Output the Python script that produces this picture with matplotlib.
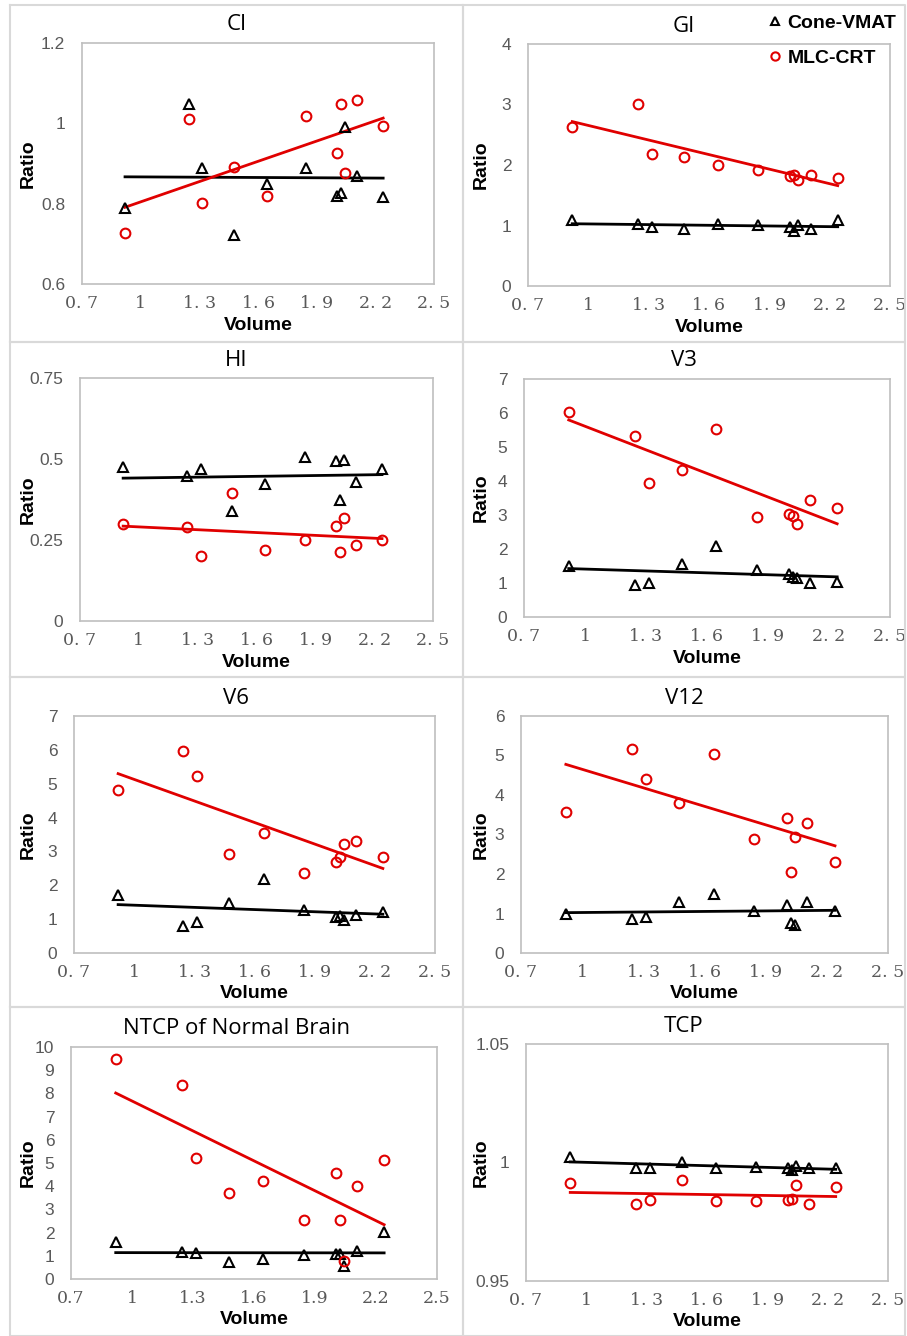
import numpy as np
import matplotlib
matplotlib.use('Agg')
import matplotlib.pyplot as plt
from matplotlib.lines import Line2D

W, H = 907, 1336

# shared x values (target volume)
volume = [0.92, 1.245, 1.315, 1.475, 1.645, 1.845, 2.005, 2.025, 2.045, 2.105, 2.24]

ci_cone = [0.789, 1.049, 0.890, 0.723, 0.849, 0.890, 0.818, 0.827, 0.992, 0.870, 0.817]
ci_mlc = [0.727, 1.011, 0.801, 0.892, 0.820, 1.019, 0.926, 1.048, 0.876, 1.059, 0.993]

gi_cone = [1.09, 1.025, 0.98, 0.94, 1.025, 1.00, 0.98, 0.915, 1.00, 0.94, 1.096]
gi_mlc = [2.63, 3.00, 2.18, 2.14, 2.00, 1.91, 1.81, 1.83, 1.75, 1.84, 1.79]

hi_cone = [0.475, 0.448, 0.470, 0.338, 0.424, 0.505, 0.494, 0.374, 0.496, 0.430, 0.468]
hi_mlc = [0.299, 0.290, 0.201, 0.395, 0.220, 0.251, 0.293, 0.213, 0.319, 0.234, 0.251]

v3_cone = [1.50, 0.93, 0.99, 1.56, 2.09, 1.38, 1.27, 1.18, 1.14, 0.99, 1.02]
v3_mlc = [6.04, 5.32, 3.94, 4.32, 5.54, 2.95, 3.04, 2.98, 2.75, 3.44, 3.20]

v6_cone = [1.70, 0.79, 0.91, 1.49, 2.20, 1.28, 1.07, 1.10, 0.98, 1.11, 1.21]
v6_mlc = [4.80, 5.96, 5.23, 2.91, 3.54, 2.37, 2.69, 2.84, 3.22, 3.31, 2.85]

v12_cone = [0.98, 0.85, 0.90, 1.28, 1.49, 1.07, 1.21, 0.77, 0.72, 1.29, 1.07]
v12_mlc = [3.57, 5.16, 4.41, 3.81, 5.03, 2.88, 3.41, 2.06, 2.93, 3.30, 2.31]

ntcp_cone = [1.58, 1.18, 1.13, 0.75, 0.85, 1.03, 1.06, 1.06, 0.56, 1.22, 2.01]
ntcp_mlc = [9.50, 8.35, 5.22, 3.70, 4.22, 2.53, 4.59, 2.53, 0.77, 4.03, 5.14]

tcp_cone = [1.0022, 0.9978, 0.9978, 1.0004, 0.9975, 0.9980, 0.9978, 0.9968, 0.9985, 0.9975, 0.9978]
tcp_mlc = [0.9912, 0.9827, 0.9841, 0.9926, 0.9836, 0.9836, 0.9841, 0.9848, 0.9907, 0.9827, 0.9895]

x_ticks = [0.7, 1.0, 1.3, 1.6, 1.9, 2.2, 2.5]
x_labels = ['0. 7', '1', '1. 3', '1. 6', '1. 9', '2. 2', '2. 5']
x_labels_ntcp = ['0.7', '1', '1.3', '1.6', '1.9', '2.2', '2.5']

panels = [
    ('CI', ci_cone, ci_mlc, (0.6, 1.2), [0.6, 0.8, 1.0, 1.2], ['0.6', '0.8', '1', '1.2']),
    ('GI', gi_cone, gi_mlc, (0, 4), [0, 1, 2, 3, 4], ['0', '1', '2', '3', '4']),
    ('HI', hi_cone, hi_mlc, (0, 0.75), [0, 0.25, 0.5, 0.75], ['0', '0.25', '0.5', '0.75']),
    ('V3', v3_cone, v3_mlc, (0, 7), list(range(8)), [str(i) for i in range(8)]),
    ('V6', v6_cone, v6_mlc, (0, 7), list(range(8)), [str(i) for i in range(8)]),
    ('V12', v12_cone, v12_mlc, (0, 6), list(range(7)), [str(i) for i in range(7)]),
    ('NTCP of Normal Brain', ntcp_cone, ntcp_mlc, (0, 10), list(range(11)), [str(i) for i in range(11)]),
    ('TCP', tcp_cone, tcp_mlc, (0.95, 1.05), [0.95, 1.0, 1.05], ['0.95', '1', '1.05']),
]

# axes boxes in pixels: left, top, right, bottom
boxes = [
    (82, 43, 434, 284), (528, 44, 890, 286),
    (80, 378, 433, 621), (524, 379, 890, 617),
    (74, 716, 435, 953), (521, 716, 888, 953),
    (71, 1047, 437, 1279), (526, 1044, 888, 1281),
]
# panel frames: left, top, right, bottom
frames = [
    (10, 5, 463, 342), (463, 5, 905, 342),
    (10, 342, 463, 677), (463, 342, 905, 677),
    (10, 677, 463, 1007), (463, 677, 905, 1007),
    (10, 1007, 463, 1336), (463, 1007, 905, 1336),
]

fig = plt.figure(figsize=(W / 100, H / 100), dpi=100)
fig.patch.set_facecolor('white')


def fx(x):
    return x / W


def fy(y):
    return 1 - y / H


for (l, t, r, b) in frames:
    fig.add_artist(Line2D([fx(l), fx(r), fx(r), fx(l), fx(l)],
                          [fy(t), fy(t), fy(b), fy(b), fy(t)],
                          color='#d9d9d9', lw=1.5))

x = np.array(volume)
for i, (title, cone, mlc, ylim, yt, ytl) in enumerate(panels):
    l, t, r, b = boxes[i]
    pl, pt, pr, pb = frames[i]
    ax = fig.add_axes([fx(l), fy(b), (r - l) / W, (b - t) / H])
    ax.plot(x, cone, linestyle='none', marker='^', ms=7, mfc='none', mec='black', mew=1.5,
            label='Cone-VMAT', zorder=3)
    ax.plot(x, mlc, linestyle='none', marker='o', ms=7, mfc='none', mec='#e00000', mew=1.5,
            label='MLC-CRT', zorder=3)
    xs = np.array([x.min(), x.max()])
    k, c0 = np.polyfit(x, cone, 1)
    ax.plot(xs, k * xs + c0, color='black', lw=2)
    k, c0 = np.polyfit(x, mlc, 1)
    ax.plot(xs, k * xs + c0, color='#e00000', lw=2)

    ax.set_xlim(0.7, 2.5)
    ax.set_ylim(*ylim)
    ax.set_xticks(x_ticks)
    ax.set_xticklabels(x_labels_ntcp if i == 6 else x_labels, family='DejaVu Serif',
                       fontsize=12.5, color='#595959')
    ax.set_yticks(yt)
    ax.set_yticklabels(ytl, family='Liberation Sans', fontsize=12.5, color='#595959')
    ax.tick_params(length=0)
    ax.tick_params(axis='y', pad=12)
    ax.tick_params(axis='x', pad=8)
    for s in ax.spines.values():
        s.set_color('#bfbfbf')
        s.set_linewidth(1.2)

    # axis titles, placed relative to the panel like the original layout
    fig.text(fx((l + r) / 2), fy(b + 41), 'Volume', ha='center', va='center',
             family='Liberation Sans', fontweight='bold', fontsize=14)
    fig.text(fx(pl + 18), fy((t + b) / 2), 'Ratio', ha='center', va='center',
             rotation=90, family='Liberation Sans', fontweight='bold', fontsize=14)

    fig.text(fx((pl + pr) / 2), fy(t - 18), title, ha='center', va='center',
             family='Open Sans', fontsize=16)

    if i == 1:
        fig.legend(handles=ax.lines[:2], loc='upper left',
                   bbox_to_anchor=(fx(769), fy(14)), frameon=False,
                   prop={'family': 'Liberation Sans', 'weight': 'bold', 'size': 14},
                   handlelength=0.6, handletextpad=0.35, labelspacing=0.9,
                   borderpad=0, borderaxespad=0, markerscale=0.85)

fig.savefig('out.png', dpi=100)
